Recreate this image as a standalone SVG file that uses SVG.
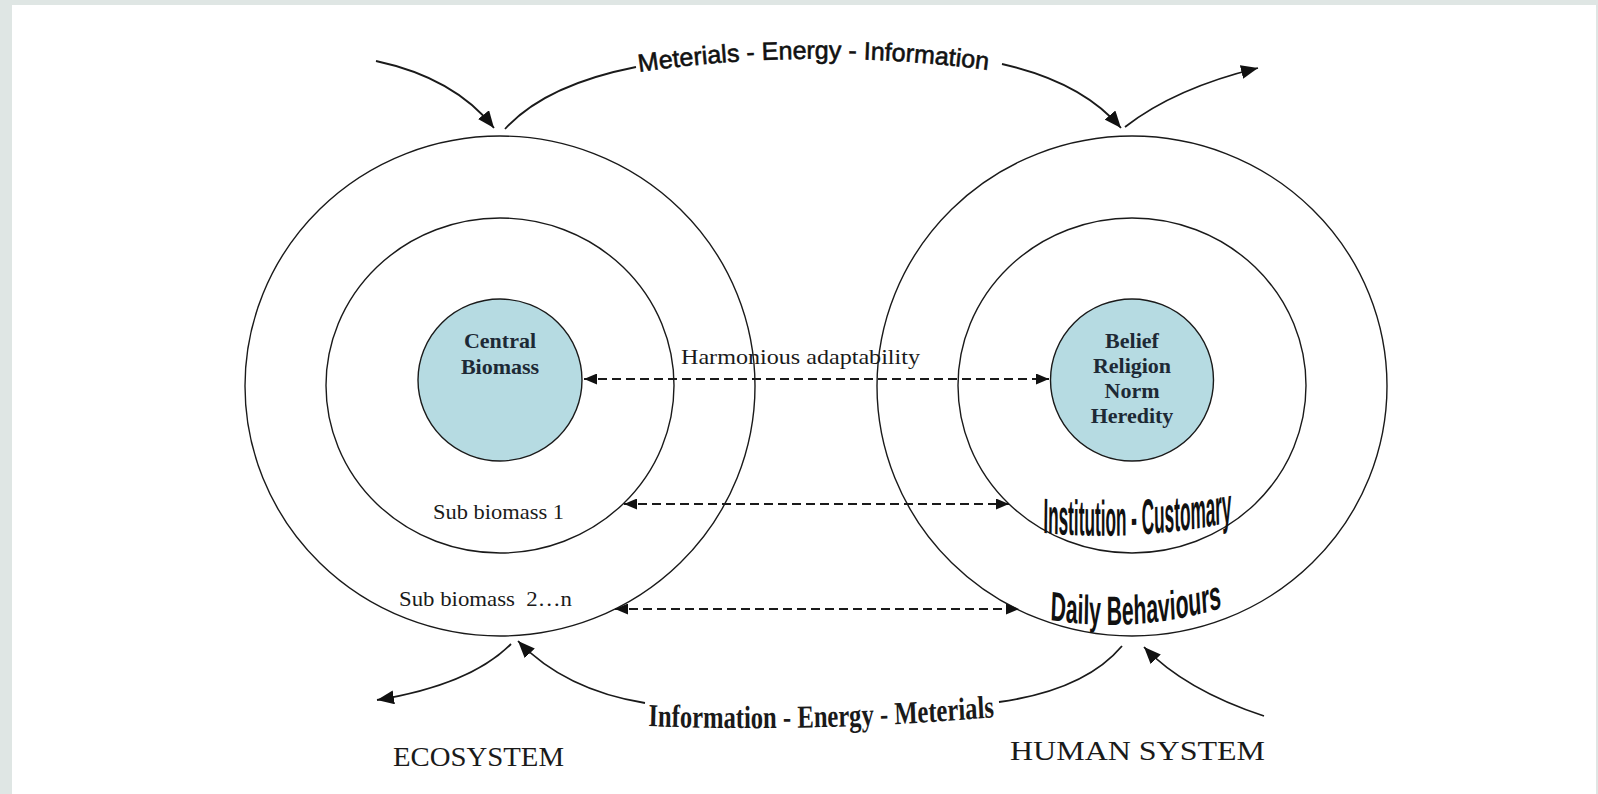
<svg xmlns="http://www.w3.org/2000/svg" width="1598" height="794" viewBox="0 0 1598 794">
<style>
.ring{fill:none;stroke:#1a1a1a;stroke-width:1.4}
.core{fill:#b6dbe2;stroke:#1a1a1a;stroke-width:1.4}
.corelbl{font-family:"Liberation Serif",serif;font-weight:bold;font-size:22px;fill:#1d2935;text-anchor:middle}
.serif{font-family:"Liberation Serif",serif;fill:#1a1a1a}
.sans{font-family:"Liberation Sans",sans-serif;fill:#111}
.flow{fill:none;stroke:#1a1a1a;stroke-width:1.8}
.dash{fill:none;stroke:#1a1a1a;stroke-width:1.8;stroke-dasharray:9 5}
</style>
<defs>
<marker id="ah" markerUnits="userSpaceOnUse" markerWidth="18" markerHeight="14" refX="17" refY="7" orient="auto"><path d="M0,0 L17,7 L0,14 z" fill="#111"/></marker>
<marker id="dh" markerUnits="userSpaceOnUse" markerWidth="14" markerHeight="11" refX="13" refY="5.5" orient="auto-start-reverse"><path d="M0,0 L13,5.5 L0,11 z" fill="#111"/></marker>
<path id="pTop" d="M639,72 Q816,46 996,71"/>
<path id="pBot" d="M-225,726 Q-8,733 226,717"/>
<path id="pInst" d="M-272,533 Q3,542 275,522"/>
<path id="pDaily" d="M-166,620 Q-2,634 166,608"/>
</defs>
<rect x="0" y="0" width="1598" height="794" fill="#dfe6e4"/>
<rect x="12" y="5" width="1584" height="789" fill="#ffffff"/>

<g id="ecosystem">
<ellipse class="ring" cx="500" cy="386" rx="255" ry="250"/>
<ellipse class="ring" cx="500" cy="385.5" rx="174" ry="167.5"/>
<ellipse class="core" cx="500" cy="380" rx="82" ry="81"/>
<text class="corelbl" x="500" y="348">Central</text>
<text class="corelbl" x="500" y="374">Biomass</text>
<text class="serif" x="433" y="519" font-size="22" textLength="131" lengthAdjust="spacingAndGlyphs">Sub biomass 1</text>
<text class="serif" x="399" y="606" font-size="22" textLength="173" lengthAdjust="spacingAndGlyphs">Sub biomass&#160; 2…n</text>
<text class="serif" x="393" y="766" font-size="27" textLength="171" lengthAdjust="spacingAndGlyphs">ECOSYSTEM</text>
</g>

<g id="human-system">
<ellipse class="ring" cx="1132" cy="386" rx="255" ry="250"/>
<ellipse class="ring" cx="1132" cy="385.5" rx="174" ry="167.5"/>
<ellipse class="core" cx="1132" cy="380" rx="81.5" ry="81"/>
<text class="corelbl" x="1132" y="348">Belief</text>
<text class="corelbl" x="1132" y="373">Religion</text>
<text class="corelbl" x="1132" y="398">Norm</text>
<text class="corelbl" x="1132" y="423">Heredity</text>
<g transform="translate(1137,0) scale(0.345,1)">
<text class="sans" font-size="50" font-weight="bold" text-anchor="middle"><textPath href="#pInst" startOffset="50%">Institution - Customary</textPath></text>
</g>
<g transform="translate(1136,0) scale(0.517,1)">
<text class="sans" font-size="41" font-weight="bold" text-anchor="middle"><textPath href="#pDaily" startOffset="50%">Daily Behaviours</textPath></text>
</g>
<text class="serif" x="1010" y="760" font-size="28" textLength="255" lengthAdjust="spacingAndGlyphs">HUMAN SYSTEM</text>
</g>

<g id="connectors">
<path class="flow" d="M376,61 Q455,78 494,128" marker-end="url(#ah)"/>
<path class="flow" d="M505,129 Q545,85 636,67"/>
<path class="flow" d="M1002,64 Q1082,82 1121,128" marker-end="url(#ah)"/>
<path class="flow" d="M1125,127 Q1175,88 1258,68" marker-end="url(#ah)"/>
<path class="flow" d="M511,644 Q470,685 377,700" marker-end="url(#ah)"/>
<path class="flow" d="M645,703 Q565,690 518,641" marker-end="url(#ah)"/>
<path class="flow" d="M999,702 Q1085,690 1122,646"/>
<path class="flow" d="M1264,716 Q1185,690 1144,647" marker-end="url(#ah)"/>
<path class="dash" d="M584,379 L1049,379" marker-start="url(#dh)" marker-end="url(#dh)"/>
<path class="dash" d="M624,504 L1009,504" marker-start="url(#dh)" marker-end="url(#dh)"/>
<path class="dash" d="M615,609 L1019,609" marker-start="url(#dh)" marker-end="url(#dh)"/>
<text class="serif" x="681" y="364" font-size="22" textLength="239" lengthAdjust="spacingAndGlyphs">Harmonious adaptability</text>
<text class="sans" font-size="25" stroke="#111" stroke-width="0.6"><textPath href="#pTop">Meterials - Energy - Information</textPath></text>
<g transform="translate(821,0) scale(0.77,1)">
<text class="serif" font-size="32" font-weight="bold" text-anchor="middle"><textPath href="#pBot" startOffset="50%">Information - Energy - Meterials</textPath></text>
</g>
</g>
</svg>
